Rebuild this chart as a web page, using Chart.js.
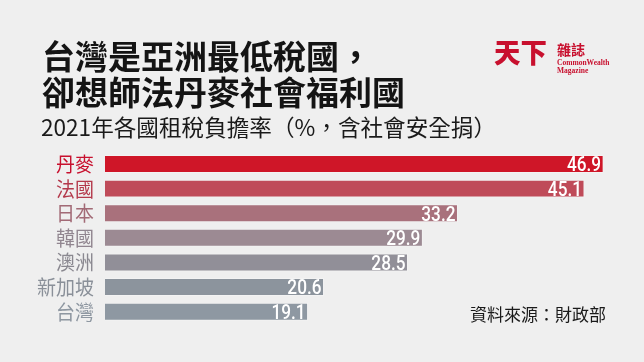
<!DOCTYPE html>
<html>
<head>
<meta charset="utf-8">
<script src="https://cdn.jsdelivr.net/npm/chart.js@4"></script>
<style>
html,body{margin:0;padding:0;background:#efefef;}
#wrap{position:relative;width:644px;height:362px;overflow:hidden;background:#efefef;}
#c{position:absolute;left:0;top:0;}
.t{position:absolute;white-space:nowrap;font-family:"Noto Sans CJK TC","Noto Sans CJK SC",sans-serif;line-height:1;transform-origin:0 0;}
#t1{left:42px;top:39px;font-size:33px;font-weight:700;color:#141414;}
#t2{left:42px;top:75px;font-size:33px;font-weight:700;color:#141414;}
#sub{left:41px;top:116px;font-size:22.6px;font-weight:400;color:#1a1a1a;}
#src{left:470px;top:305px;font-size:17px;font-weight:400;color:#1a1a1a;}
#lg1{left:494px;top:38px;font-size:27px;font-weight:900;color:#c8102e;transform:scaleX(0.98);}
#lg2{left:557px;top:42px;font-size:14px;font-weight:700;color:#c8102e;}
#lg3{left:557px;top:59px;font-size:7.5px;font-family:"Liberation Serif",serif;font-weight:700;color:#c8102e;line-height:1;}
#lg4{left:557px;top:67px;font-size:7.5px;font-family:"Liberation Serif",serif;font-weight:700;color:#c8102e;line-height:1;}
</style>
</head>
<body>
<div id="wrap">
<canvas id="c" width="644" height="362"></canvas>
<div class="t" id="t1">台灣是亞洲最低稅國，</div>
<div class="t" id="t2">卻想師法丹麥社會福利國</div>
<div class="t" id="sub">2021年各國租稅負擔率（%，含社會安全捐）</div>
<div class="t" id="src">資料來源：財政部</div>
<div class="t" id="lg1">天下</div>
<div class="t" id="lg2">雜誌</div>
<div class="t" id="lg3">CommonWealth</div>
<div class="t" id="lg4">Magazine</div>
</div>
<script>
// Data
const categories = ["丹麥", "法國", "日本", "韓國", "澳洲", "新加坡", "台灣"];
const taxBurden = [46.9, 45.1, 33.2, 29.9, 28.5, 20.6, 19.1];
const valueLabels = ["46.9", "45.1", "33.2", "29.9", "28.5", "20.6", "19.1"];

// Styles
const barColors = ["#cf1628", "#bf4b59", "#a9717c", "#9c8a93", "#918f98", "#8c949d", "#8e98a2"];
const labelColors = ["#c8102e", "#b43a4c", "#a26a76", "#918690", "#8a8890", "#8a9099", "#8e97a1"];

const labelPlugin = {
  id: 'labelPlugin',
  afterDatasetsDraw(chart) {
    const ctx = chart.ctx;
    const meta = chart.getDatasetMeta(0);
    const yScale = chart.scales.y;
    ctx.save();
    meta.data.forEach((bar, i) => {
      // value inside bar
      ctx.save();
      ctx.translate(bar.x - 2.5, bar.y + 7.3);
      ctx.scale(0.82, 1);
      ctx.font = '500 21px Roboto, "Liberation Sans", sans-serif';
      ctx.fillStyle = '#ffffff';
      ctx.textAlign = 'right';
      ctx.textBaseline = 'alphabetic';
      ctx.fillText(valueLabels[i], 0, 0);
      ctx.restore();
      // category label
      const y = yScale.getPixelForValue(i);
      ctx.save();
      ctx.translate(94, y + 8);
      ctx.scale(0.95, 1);
      ctx.font = '400 20px "Noto Sans CJK TC", sans-serif';
      ctx.fillStyle = labelColors[i];
      ctx.textAlign = 'right';
      ctx.textBaseline = 'alphabetic';
      ctx.fillText(categories[i], 0, 0);
      ctx.restore();
    });
    ctx.restore();
  }
};

new Chart(document.getElementById('c'), {
  type: 'bar',
  data: {
    labels: categories,
    datasets: [{
      data: taxBurden,
      backgroundColor: barColors,
      borderColor: 'rgba(255,255,255,0.25)',
      borderWidth: 1,
      borderSkipped: 'start',
      barPercentage: 0.73,
      categoryPercentage: 1.0
    }]
  },
  options: {
    indexAxis: 'y',
    responsive: false,
    animation: false,
    devicePixelRatio: 1,
    layout: { padding: { left: 105, right: 7.4, top: 151.7, bottom: 38 } },
    plugins: { legend: { display: false }, tooltip: { enabled: false }, title: { display: false } },
    scales: {
      x: { display: false, min: 0, max: 50 },
      y: { display: false, offset: true, grid: { display: false } }
    }
  },
  plugins: [labelPlugin]
});
</script>
</body>
</html>
